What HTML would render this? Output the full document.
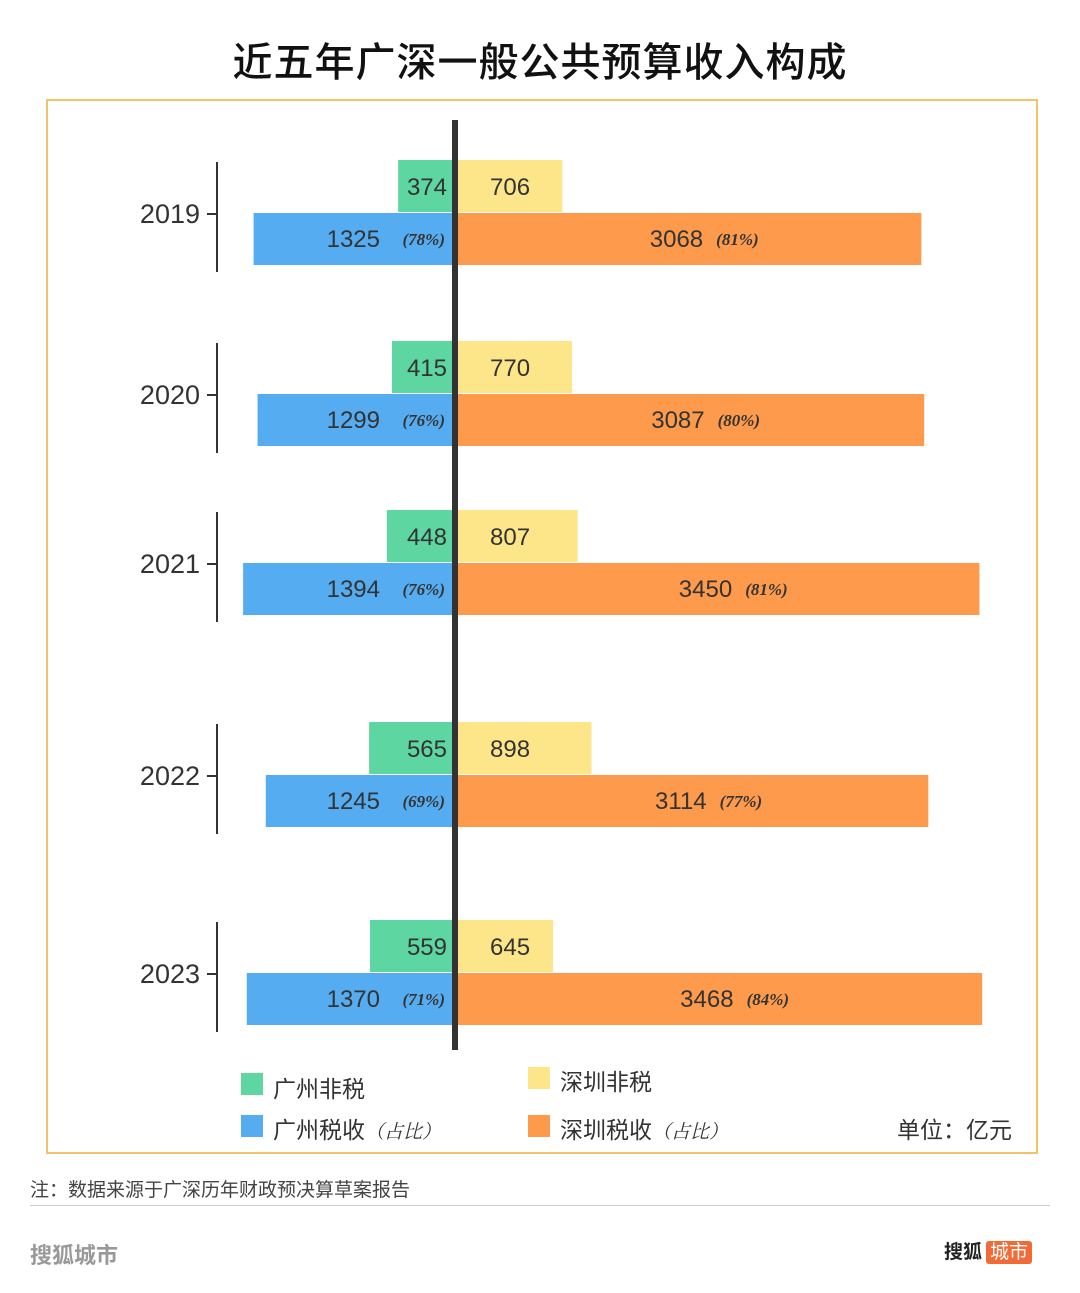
<!DOCTYPE html>
<html><head><meta charset="utf-8">
<style>
body{margin:0;width:1080px;height:1293px;background:#fff;font-family:"Liberation Sans","Noto Sans CJK SC",sans-serif;position:relative;overflow:hidden}
.abs{position:absolute}
</style></head><body>
<div class="abs" style="left:0;width:1080px;top:30px;text-align:center;font-size:40px;font-weight:500;color:#111;letter-spacing:1px">近五年广深一般公共预算收入构成</div>
<div class="abs" style="left:46px;top:99px;width:988px;height:1051px;border:2px solid #f2c46a"></div>
<svg class="abs" style="left:0;top:0" width="1080" height="1293" id="chart"></svg>
<div class="abs" style="left:0;top:0;font-size:23px;color:#333">
 <div class="abs" style="left:241px;top:1073px;width:22px;height:22px;background:#5dd6a1"></div>
 <div class="abs" style="left:273px;top:1070px;white-space:nowrap">广州非税</div>
 <div class="abs" style="left:241px;top:1115px;width:22px;height:22px;background:#56acf1"></div>
 <div class="abs" style="left:273px;top:1111px;white-space:nowrap">广州税收<i style="font-size:19px;font-family:'Liberation Serif','Noto Serif CJK SC',serif">（占比）</i></div>
 <div class="abs" style="left:528px;top:1067px;width:22px;height:22px;background:#fde58a"></div>
 <div class="abs" style="left:560px;top:1063px;white-space:nowrap">深圳非税</div>
 <div class="abs" style="left:528px;top:1115px;width:22px;height:22px;background:#fd9a4b"></div>
 <div class="abs" style="left:560px;top:1111px;white-space:nowrap">深圳税收<i style="font-size:19px;font-family:'Liberation Serif','Noto Serif CJK SC',serif">（占比）</i></div>
 <div class="abs" style="left:897px;top:1111px;white-space:nowrap">单位：亿元</div>
</div>
<div class="abs" style="left:30px;top:1175px;font-size:19px;color:#444">注：数据来源于广深历年财政预决算草案报告</div>
<div class="abs" style="left:30px;top:1205px;width:1020px;height:1px;background:#ccc"></div>
<div class="abs" style="left:30px;top:1238px;font-size:22px;color:#999;font-weight:bold">搜狐城市</div>
<div class="abs" style="left:944px;top:1237px;font-size:19px;color:#222;font-weight:bold">搜狐<span style="background:#f26b36;color:#fff;font-weight:normal;padding:1px 4px;border-radius:3px;margin-left:4px">城市</span></div>
<script>
const years=["2019","2020","2021","2022","2023"];
const gzNonTax=[374,415,448,565,559];
const szNonTax=[706,770,807,898,645];
const gzTax=[1325,1299,1394,1245,1370];
const szTax=[3068,3087,3450,3114,3468];
const gzPct=["78%","76%","76%","69%","71%"];
const szPct=["81%","80%","81%","77%","84%"];
const rowTop=[160,341,510,722,920];
const cx=455,k=0.152,bh=52;
const x=v=>v*k;
const svg=document.getElementById('chart');
const NS='http://www.w3.org/2000/svg';
function mk(tag,at){const e=document.createElementNS(NS,tag);for(const a in at)e.setAttribute(a,at[a]);svg.appendChild(e);return e;}
function txt(s,at){const e=mk('text',at);e.textContent=s;return e;}
years.forEach((y,i)=>{
 const t=rowTop[i];
 let r=mk('rect',{x:cx-x(gzNonTax[i]),y:t,width:x(gzNonTax[i]),height:bh,fill:'#5dd6a1'});
 
 r=mk('rect',{x:cx,y:t,width:x(szNonTax[i]),height:bh,fill:'#fde58a'});
 
 r=mk('rect',{x:cx-x(gzTax[i]),y:t+bh+1,width:x(gzTax[i]),height:bh,fill:'#56acf1'});
 
 r=mk('rect',{x:cx,y:t+bh+1,width:x(szTax[i]),height:bh,fill:'#fd9a4b'});
 
 const f='font-family:"Liberation Sans",sans-serif;font-size:24px;fill:#333';
 const pf='font-family:"Liberation Serif",serif;font-style:italic;font-weight:bold;font-size:17px;fill:#333';
 let e=txt(gzNonTax[i],{x:cx-8,y:t+35,'text-anchor':'end',style:f});
 
 e=txt(szNonTax[i],{x:cx+35,y:t+35,style:f});
 
 e=txt('('+gzPct[i]+')',{x:cx-10,y:t+bh+33,'text-anchor':'end',style:pf});
 
 e=txt(gzTax[i],{x:cx-75,y:t+bh+35,'text-anchor':'end',style:f});
 
 e=txt(szTax[i],{x:cx+x(szTax[i])/2+15,y:t+bh+35,'text-anchor':'end',style:f});
 
 e=txt('('+szPct[i]+')',{x:cx+x(szTax[i])/2+28,y:t+bh+33,style:pf});
 
 e=mk('line',{x1:217,x2:217,y1:t+2,y2:t+2*bh+8,stroke:'#333','stroke-width':2});
 
 e=mk('line',{x1:207,x2:217,y1:t+bh+2,y2:t+bh+2,stroke:'#333','stroke-width':2});
 
 e=txt(y,{x:200,y:t+bh+11,'text-anchor':'end',style:'font-family:"Liberation Sans",sans-serif;font-size:27px;fill:#333'});
 
});
const c=mk('rect',{x:cx-3,y:120,width:6,height:930,fill:'#333'});


</script>
</body></html>
